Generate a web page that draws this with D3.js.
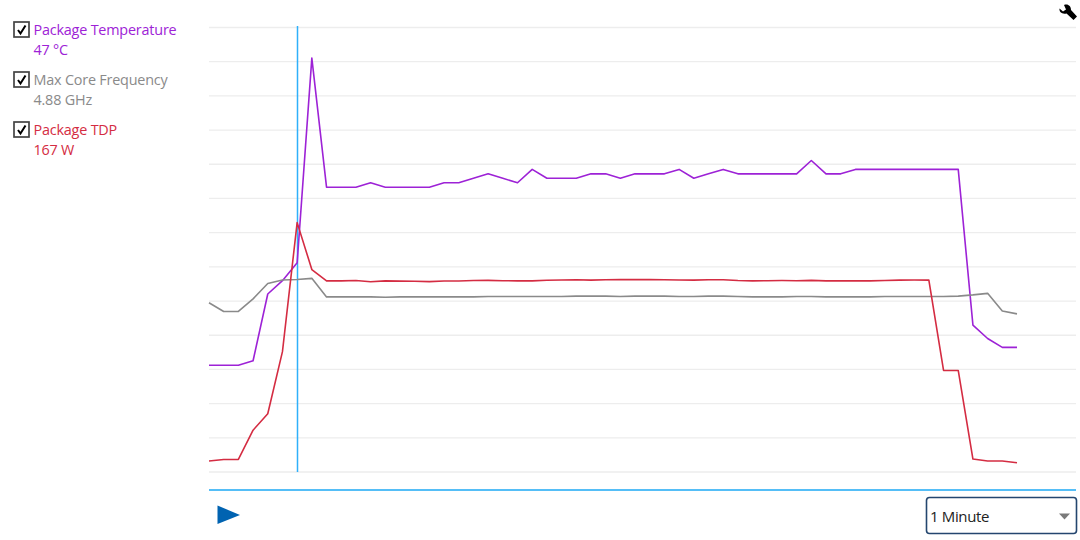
<!DOCTYPE html>
<html>
<head>
<meta charset="utf-8">
<script src="https://cdn.jsdelivr.net/npm/d3@7"></script>
<style>
html,body{margin:0;padding:0;background:#fff;overflow:hidden}
svg{display:block}
text{font-family:"Open Sans","Noto Sans",sans-serif}
</style>
</head>
<body>
<svg id="chart" width="1080" height="540"></svg>
<script>
const sampleIndex = d3.range(56);
const gridTicks = [0,1,2,3,4,5,6,7,8,9,10,11,12,13];

const packageTemperature = [24,24,24,25,40,43,47,93,64,64,64,65,64,64,64,64,65,65,66,67,66,65,68,66,66,66,67,67,66,67,67,67,68,66,67,68,67,67,67,67,67,70,67,67,68,68,68,68,68,68,68,68,33,30,28,28];
const maxCoreFrequency = [4.29,4.07,4.07,4.39,4.78,4.87,4.88,4.91,4.44,4.44,4.44,4.44,4.43,4.44,4.44,4.44,4.44,4.44,4.44,4.45,4.45,4.45,4.45,4.45,4.45,4.46,4.46,4.46,4.45,4.46,4.46,4.46,4.45,4.45,4.46,4.46,4.45,4.44,4.44,4.44,4.45,4.45,4.44,4.44,4.44,4.44,4.45,4.45,4.45,4.45,4.45,4.46,4.49,4.53,4.08,4.01];
const packageTDP = [7.4,8.4,8.4,28,39,80.6,167,135.6,128,128,128.2,127.4,128,127.8,127.7,127.5,127.9,127.9,128.2,128.3,128.1,128,128,128.4,128.6,128.7,128.5,128.7,128.8,128.8,128.8,128.7,128.6,128.5,128.7,128.7,128.2,128,128.1,128.2,128.1,128.3,128,128,128,128,128.2,128.5,128.6,128.5,68,68,8.7,7.4,7.4,6.2];

const legendNames = ["Package Temperature","Max Core Frequency","Package TDP"];
const legendValues = ["47 °C","4.88 GHz","167 W"];
const seriesColors = ["#9d22d6","#8a8a8a","#d42c42"];
const selectedIndex = 6;
const rangeLabel = "1 Minute";

const svg = d3.select("#chart");
const x = d3.scaleLinear().domain([0,55]).range([209,1017]);
const gridY = d3.scaleLinear().domain([0,13]).range([471.5,27]);
const yTemp = d3.scaleLinear().domain([0,100]).range([472,27]);
const yFreq = d3.scaleLinear().domain([0,11.283]).range([472,27]);
const yTdp = d3.scaleLinear().domain([0,298]).range([472,27]);

// grid
const gridAxis = d3.axisLeft(gridY).tickValues(gridTicks).tickSize(-867).tickFormat("");
const g = svg.append("g").attr("transform","translate(209,0)").call(gridAxis);
g.select(".domain").remove();
g.selectAll("line").attr("stroke","#ededed").attr("stroke-width",1.3);

// series
const series = [
  {v:packageTemperature,y:yTemp,c:seriesColors[0]},
  {v:maxCoreFrequency,y:yFreq,c:seriesColors[1]},
  {v:packageTDP,y:yTdp,c:seriesColors[2]}
];
// crosshair beneath series
svg.append("line")
  .attr("x1",Math.round(x(selectedIndex))+0.5).attr("x2",Math.round(x(selectedIndex))+0.5)
  .attr("y1",26).attr("y2",472)
  .attr("stroke","#2fb0fa").attr("stroke-width",1.5);

series.forEach(s=>{
  svg.append("path")
    .datum(sampleIndex)
    .attr("fill","none")
    .attr("stroke",s.c)
    .attr("stroke-width",1.6)
    .attr("stroke-linejoin","round")
    .attr("d",d3.line().x(i=>x(i)).y(i=>s.y(s.v[i])));
});

// bottom rule
svg.append("line").attr("x1",209).attr("x2",1076).attr("y1",490).attr("y2",490)
  .attr("stroke","#55bef7").attr("stroke-width",1.8);

// play
svg.append("path").attr("d","M217.5,505.5 L240,515 L217.5,524 Z").attr("fill","#0063b1");

// legend
legendNames.forEach((name,i)=>{
  const top = 22 + i*50;
  svg.append("rect").attr("x",14).attr("y",top).attr("width",15).attr("height",15)
    .attr("fill","#fff").attr("stroke","#444").attr("stroke-width",1.7);
  svg.append("path").attr("d",`M18,${top+8} L20.5,${top+11.5} L25.5,${top+3.5}`)
    .attr("fill","none").attr("stroke","#000").attr("stroke-width",2);
  svg.append("text").attr("x",33.5).attr("y",top+13).attr("font-size",14.4)
    .attr("letter-spacing",-0.2)
    .attr("fill",seriesColors[i]).text(name);
  svg.append("text").attr("x",33.5).attr("y",top+33).attr("font-size",14.4)
    .attr("letter-spacing",-0.2)
    .attr("fill",seriesColors[i]).text(legendValues[i]);
});

// wrench
svg.append("path")
  .attr("d","M1059.5,8.5 L1063,11.5 L1066,9.5 L1064,5 C1068,3.5 1071,6 1071,10 L1077,16.5 L1073.5,20 L1066.5,13.5 C1062,14.5 1059,12 1059.5,8.5 Z")
  .attr("fill","#000");

// select
svg.append("rect").attr("x",926.5).attr("y",497.5).attr("width",150).attr("height",36).attr("rx",3)
  .attr("fill","#fff").attr("stroke","#24466f").attr("stroke-width",1.6);
svg.append("text").attr("x",930).attr("y",521.5).attr("font-size",15).attr("letter-spacing",-0.35).attr("fill","#222").text(rangeLabel);
svg.append("path").attr("d","M1059,513.5 L1070,513.5 L1064.5,519.5 Z").attr("fill","#7a7a7a");
</script>
</body>
</html>
